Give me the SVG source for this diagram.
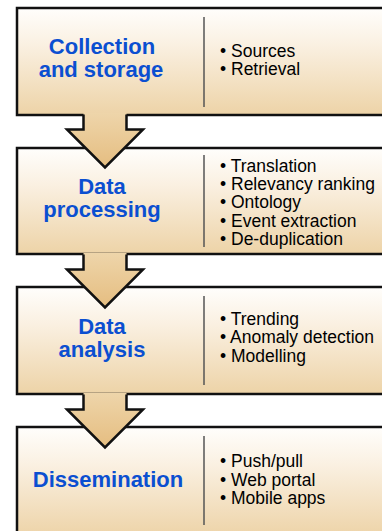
<svg xmlns="http://www.w3.org/2000/svg" width="382" height="531" viewBox="0 0 382 531">
  <defs>
    <linearGradient id="boxFill" x1="0" y1="0" x2="0" y2="1">
      <stop offset="0" stop-color="#FFFEFC"/>
      <stop offset="0.35" stop-color="#FAF0E1"/>
      <stop offset="1" stop-color="#EDD3A7"/>
    </linearGradient>
    <linearGradient id="arrowFill" x1="0" y1="0" x2="0" y2="1">
      <stop offset="0" stop-color="#EED5AA"/>
      <stop offset="1" stop-color="#E5BD80"/>
    </linearGradient>
    <style>
      .box { fill: url(#boxFill); stroke: #111; stroke-width: 2.5; }
      .divider { stroke: #555; stroke-width: 1.5; }
      .title { font-family: "Liberation Sans", Arial, sans-serif; font-weight: bold; font-size: 22px; fill: #0B4FD1; text-anchor: middle; }
      .item { font-family: "Liberation Sans", Arial, sans-serif; font-size: 17.5px; fill: #000; }
      .arrowFill { fill: url(#arrowFill); stroke: none; }
      .arrowEdge { fill: none; stroke: #111; stroke-width: 2.5; stroke-linejoin: miter; }
    </style>
  </defs>

  <rect width="382" height="531" fill="#ffffff"/>

  <g id="collection">
    <rect class="box" x="17" y="8" width="380" height="107"/>
    <line class="divider" x1="204" y1="17" x2="204" y2="107"/>
    <text class="title" x="102" y="54">Collection</text>
    <text class="title" x="101" y="77">and storage</text>
    <text class="item" x="220" y="56.8">• Sources</text>
    <text class="item" x="220" y="75.2">• Retrieval</text>
  </g>

  <g id="processing">
    <rect class="box" x="17" y="148" width="380" height="106"/>
    <line class="divider" x1="204" y1="155" x2="204" y2="247"/>
    <text class="title" x="102" y="194">Data</text>
    <text class="title" x="102" y="217">processing</text>
    <text class="item" x="220" y="172">• Translation</text>
    <text class="item" x="220" y="190.2">• Relevancy ranking</text>
    <text class="item" x="220" y="208.4">• Ontology</text>
    <text class="item" x="220" y="226.6">• Event extraction</text>
    <text class="item" x="220" y="244.8">• De-duplication</text>
  </g>

  <g id="analysis">
    <rect class="box" x="17" y="287" width="380" height="107"/>
    <line class="divider" x1="204" y1="296" x2="204" y2="385"/>
    <text class="title" x="102" y="334">Data</text>
    <text class="title" x="102" y="357">analysis</text>
    <text class="item" x="220" y="325">• Trending</text>
    <text class="item" x="220" y="343.3">• Anomaly detection</text>
    <text class="item" x="220" y="361.6">• Modelling</text>
  </g>

  <g id="dissemination">
    <rect class="box" x="17" y="427" width="380" height="110"/>
    <line class="divider" x1="204" y1="436" x2="204" y2="525"/>
    <text class="title" x="108" y="487">Dissemination</text>
    <text class="item" x="220" y="467">• Push/pull</text>
    <text class="item" x="220" y="485.5">• Web portal</text>
    <text class="item" x="220" y="504">• Mobile apps</text>
  </g>

  <g id="connectors">
    <g id="arrow1">
      <polygon class="arrowFill" points="83.5,113 83.5,129.5 67,129.5 105,167.5 143,129.5 126.5,129.5 126.5,113"/>
      <polyline class="arrowEdge" points="83.5,114.5 83.5,129.5 67,129.5 105,167.5 143,129.5 126.5,129.5 126.5,114.5"/>
    </g>
    <g id="arrow2">
      <polygon class="arrowFill" points="83.5,253 83.5,269.5 67,269.5 105,307.5 143,269.5 126.5,269.5 126.5,253"/>
      <polyline class="arrowEdge" points="83.5,254.5 83.5,269.5 67,269.5 105,307.5 143,269.5 126.5,269.5 126.5,254.5"/>
    </g>
    <g id="arrow3">
      <polygon class="arrowFill" points="83.5,393 83.5,409.5 67,409.5 105,447.5 143,409.5 126.5,409.5 126.5,393"/>
      <polyline class="arrowEdge" points="83.5,394.5 83.5,409.5 67,409.5 105,447.5 143,409.5 126.5,409.5 126.5,394.5"/>
    </g>
  </g>
</svg>
